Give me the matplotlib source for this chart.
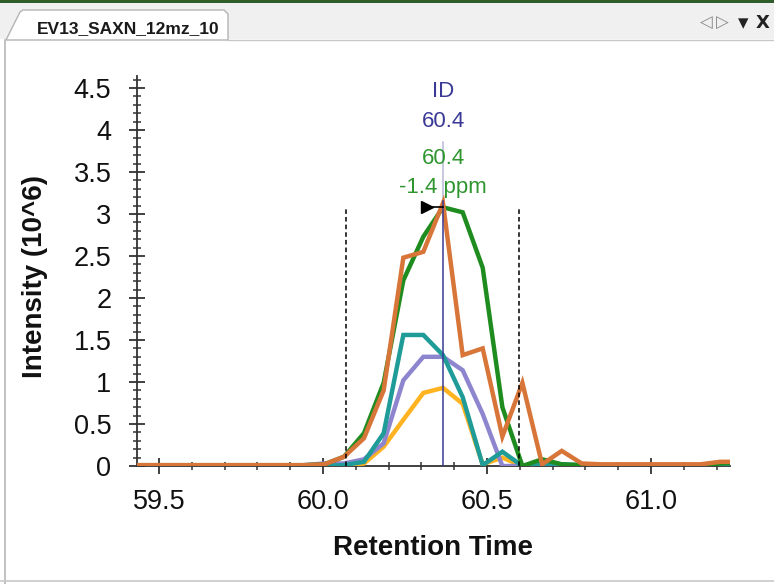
import matplotlib
matplotlib.use("Agg")
import matplotlib.pyplot as plt
from matplotlib.patches import Polygon, Rectangle
from matplotlib.lines import Line2D
from matplotlib.ticker import MultipleLocator, FuncFormatter

plt.rcParams['font.family'] = ['Liberation Sans', 'DejaVu Sans']

# ---- data ----
rt = [59.400, 59.460, 59.521, 59.581, 59.641, 59.702, 59.762, 59.822, 59.883, 59.943,
      60.004, 60.064, 60.125, 60.185, 60.245, 60.306, 60.366, 60.426, 60.487, 60.547,
      60.608, 60.668, 60.728, 60.789, 60.849, 60.909, 60.970, 61.030, 61.090, 61.151,
      61.211, 61.272]

yellow = [0.0, 0.0, 0.0, 0.0, 0.0, 0.0, 0.0, 0.0, 0.0, 0.0,
          0.0, 0.01, 0.03, 0.23, 0.55, 0.87, 0.93, 0.74, 0.02, 0.10,
          0.0, 0.0, 0.0, 0.0, 0.0, 0.0, 0.0, 0.0, 0.0, 0.0,
          0.0, 0.0]
purple = [0.0, 0.0, 0.0, 0.0, 0.0, 0.0, 0.0, 0.0, 0.0, 0.01,
          0.03, 0.03, 0.08, 0.27, 1.02, 1.30, 1.30, 1.14, 0.62, 0.0,
          0.0, 0.0, 0.0, 0.0, 0.0, 0.0, 0.0, 0.0, 0.0, 0.0,
          0.0, 0.0]
teal = [0.0, 0.0, 0.0, 0.0, 0.0, 0.0, 0.0, 0.0, 0.0, 0.0,
        0.0, 0.01, 0.05, 0.39, 1.56, 1.56, 1.32, 0.82, 0.01, 0.17,
        0.0, 0.03, 0.02, 0.01, 0.01, 0.01, 0.01, 0.01, 0.01, 0.01,
        0.01, 0.01]
green = [0.01, 0.01, 0.01, 0.01, 0.01, 0.01, 0.01, 0.01, 0.01, 0.01,
         0.02, 0.11, 0.39, 0.99, 2.21, 2.73, 3.08, 3.02, 2.36, 0.70,
         0.0, 0.08, 0.02, 0.01, 0.01, 0.01, 0.01, 0.01, 0.01, 0.01,
         0.03, 0.04]
orange = [0.01, 0.01, 0.01, 0.01, 0.01, 0.01, 0.01, 0.01, 0.01, 0.01,
          0.02, 0.11, 0.33, 0.90, 2.48, 2.55, 3.13, 1.32, 1.40, 0.35,
          0.99, 0.02, 0.18, 0.03, 0.02, 0.02, 0.02, 0.02, 0.02, 0.02,
          0.05, 0.05]

series = [yellow, purple, teal, green, orange]
series_colors = ['#ffb321', '#8d86cf', '#1f9c98', '#1f8c1f', '#d8763a']

id_rt = 60.366
boundaries = [60.070, 60.598]
boundary_top = 3.07
arrow_y = 3.08
id_text = ['ID', '60.4']
match_text = ['60.4', '-1.4 ppm']

xticks = [59.5, 60.0, 60.5, 61.0]
yticks = [0, 0.5, 1, 1.5, 2, 2.5, 3, 3.5, 4, 4.5]

# ---- figure ----
W, H = 774, 584
fig = plt.figure(figsize=(W / 100, H / 100), dpi=100)
fig.patch.set_facecolor('white')

def fx(px):
    return px / W

def fy(py):
    return 1 - py / H

# window chrome
fig.patches.append(Rectangle((0, fy(39)), 1, fy(0) - fy(39), transform=fig.transFigure,
                             facecolor='#f0f0f0', edgecolor='none', zorder=0))
fig.patches.append(Rectangle((0, fy(3)), 1, fy(0) - fy(3), transform=fig.transFigure,
                             facecolor='#2f5e2a', edgecolor='none', zorder=1))
tab = Polygon([(fx(6), fy(40)), (fx(20), fy(12)), (fx(23), fy(10)), (fx(224), fy(10)),
               (fx(228), fy(14)), (fx(228), fy(40))], closed=True, transform=fig.transFigure,
              facecolor='white', edgecolor='#b4b4b4', linewidth=1, zorder=2)
fig.patches.append(tab)
fig.lines.append(Line2D([fx(228), 1], [fy(39.5), fy(39.5)], transform=fig.transFigure,
                        color='#c8c8c8', linewidth=1, zorder=2))
fig.lines.append(Line2D([fx(4.5), fx(4.5)], [fy(40), fy(584)], transform=fig.transFigure,
                        color='#b8b8b8', linewidth=1.2, zorder=2))
fig.lines.append(Line2D([0, 1], [fy(581), fy(581)], transform=fig.transFigure,
                        color='#c8c8c8', linewidth=1.2, zorder=2))
fig.text(fx(37), fy(33), 'EV13_SAXN_12mz_10', fontsize=12.5, fontweight='bold',
         color='#1a1a1a', ha='left', va='baseline')
for px, ch, col, fs, fw in [(706, '◁', '#8a8a8a', 12, 'normal'), (722, '▷', '#8a8a8a', 12, 'normal'),
                            (743, '▾', '#222222', 15, 'normal'), (763, 'X', '#222222', 13, 'bold')]:
    fig.text(fx(px), fy(23), ch, fontsize=fs, color=col, ha='center', va='center',
             fontweight=fw, family=['DejaVu Sans'])

# ---- axes ----
ax = fig.add_axes([fx(137), fy(466), fx(730) - fx(137), fy(76) - fy(466)])
ax.set_facecolor('white')

for vals, col in zip(series, series_colors):
    ax.plot(rt, vals, color=col, linewidth=3.2, solid_joinstyle='miter', zorder=3)

for b in boundaries:
    ax.plot([b, b], [0, boundary_top], color='black', linewidth=1.1,
            linestyle=(0, (3, 2)), zorder=4)

ax.plot([id_rt, id_rt], [0, 3.15], color='#3a3a96', linewidth=1.1, zorder=5)
ax.plot([id_rt, id_rt], [3.15, 3.86], color='#b9b9dc', linewidth=1.1, zorder=2)
ax.plot([60.31, id_rt], [arrow_y, arrow_y], color='black', linewidth=1.2, zorder=6)
ax.plot([60.318], [arrow_y], marker='>', color='black', markersize=9, zorder=6)

ax.text(id_rt, 4.39, id_text[0], color='#3a3a96', fontsize=16, ha='center', va='baseline')
ax.text(id_rt, 4.04, id_text[1], color='#3a3a96', fontsize=16, ha='center', va='baseline')
ax.text(id_rt, 3.59, match_text[0], color='#2f962f', fontsize=16, ha='center', va='baseline')
ax.text(id_rt, 3.25, match_text[1], color='#2f962f', fontsize=16, ha='center', va='baseline')

ax.set_xlim(59.433, 61.241)
ax.set_ylim(0, 4.643)

ax.set_xticks(xticks)
ax.set_yticks(yticks)
ax.xaxis.set_minor_locator(MultipleLocator(0.1))
ax.yaxis.set_minor_locator(MultipleLocator(0.1))
ax.xaxis.set_major_formatter(FuncFormatter(lambda v, p: f"{v:.1f}"))
ax.yaxis.set_major_formatter(FuncFormatter(lambda v, p: f"{v:g}"))

for s in ['top', 'right']:
    ax.spines[s].set_visible(False)
for s in ['left', 'bottom']:
    ax.spines[s].set_color('#333333')
    ax.spines[s].set_linewidth(1.3)

ax.tick_params(axis='both', which='major', direction='inout', length=11, width=1.3,
               color='#333333', labelsize=19.5, labelcolor='#111111')
ax.tick_params(axis='both', which='minor', direction='inout', length=6, width=1.1,
               color='#333333')
ax.tick_params(axis='x', which='major', pad=11)
ax.tick_params(axis='y', which='major', pad=13)

fig.text(fx(35), fy(276), 'Intensity (10^6)', rotation=90, fontsize=20, fontweight='bold',
         ha='center', va='center', color='#111111')
fig.text(fx(433), fy(548), 'Retention Time', fontsize=20, fontweight='bold',
         ha='center', va='center', color='#111111')

fig.savefig('out.png', dpi=100, facecolor='white')
